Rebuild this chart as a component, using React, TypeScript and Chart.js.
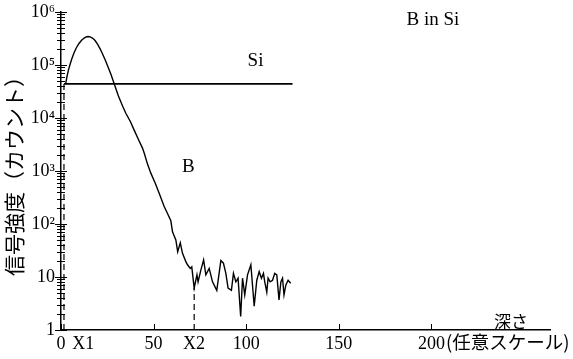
import React, { useEffect, useRef } from 'react';
import { Chart, registerables } from 'chart.js';

Chart.register(...registerables);

// B profile: depth (arbitrary scale) and signal (counts)
const bDepth = [
  2.5, 3.2, 4, 4.8, 5.8, 7, 8.3, 9.7, 11, 12.5, 13.6, 14.6, 15.7, 17, 18.4, 19.8,
  21.2, 22.5, 24, 25.5, 27, 28.2, 29.6, 31, 33.3, 35, 37.5, 39.5, 42, 44, 45, 46.7,
  48.5, 51, 53, 55.7, 57.5, 59.3, 60.2, 62, 63, 64.4, 65.6, 67.4, 68.3, 69.8, 70.6,
  71.9, 73.4, 74, 75.5, 77, 78.2, 80, 81.8, 84.1, 86.3, 87.7, 89, 90.2, 92, 93.1,
  94.4, 95.6, 97, 98, 99.2, 100.7, 102.5, 104.3, 105.7, 107, 108.2, 109.3, 110, 111.1,
  111.8, 112.9, 114.2, 115.4, 116.5, 117.7, 118.7, 119.6, 120.4, 121.4, 122.6, 124,
];
const bSignal = [
  43650, 60000, 80000, 100000, 130000, 168000, 212000, 255000, 290000, 322000, 338000,
  345000, 340000, 322000, 290000, 245000, 200000, 160000, 122000, 90000, 66000, 50000,
  36000, 26000, 16600, 12300, 8500, 5900, 3800, 2700, 2140, 1350, 912, 575, 380, 214,
  158, 115, 71, 50, 30, 44, 28, 19.5, 17, 14.5, 15.5, 6.2, 11, 8.1, 13.5, 21, 11, 14.5,
  8.1, 5.6, 20.4, 18.2, 11.7, 6.2, 5.6, 11.7, 8.1, 9.5, 1.8, 9.5, 4.6, 11, 17, 2.8,
  8.7, 12.6, 9.5, 11.7, 8.1, 5.2, 9.5, 8.1, 8.7, 11.7, 11, 3.7, 8.1, 9.5, 4.6, 7.1,
  8.7, 7.6,
];

// Si matrix signal
const siDepth = [1.6, 30, 60, 90, 125];
const siSignal = [44000, 44000, 44000, 44000, 44000];

// Marker depths
const x1Depth = 1.6;
const x2Depth = 71.9;
const x1Range = [1, 44000];
const x2Range = [1, 6.2];

// Ticks
const yTickValues = [1, 10, 100, 1000, 10000, 100000, 1000000];
const yTickLabels = ['1', '10', '10²', '10³', '10⁴', '10⁵', '10⁶'];
const xTickValues = [0, 12, 50, 71.8, 100, 150, 200];
const xTickLabels = ['0', 'X1', '50', 'X2', '100', '150', '200'];
const xMarkValues = [0, 50, 100, 150, 200];

const SERIF = '"Liberation Serif", "Times New Roman", serif';
const JP = '"Noto Sans CJK JP", sans-serif';

const decorPlugin = {
  id: 'decor',
  afterDraw(chart: any) {
    const { ctx, chartArea } = chart;
    const xs = chart.scales.x;
    const ys = chart.scales.y;
    const left = chartArea.left;
    const bottom = chartArea.bottom;
    ctx.save();
    ctx.strokeStyle = '#000';
    ctx.lineWidth = 1;
    // y-axis crossing ticks
    for (let k = 0; k <= 5; k++) {
      for (let m = 1; m <= 9; m++) {
        const v = m * Math.pow(10, k);
        const py = Math.round(ys.getPixelForValue(v)) + 0.5;
        const half = m === 1 ? 6 : 4;
        ctx.beginPath();
        ctx.moveTo(left - half, py);
        ctx.lineTo(left + half, py);
        ctx.stroke();
      }
    }
    {
      const py = Math.round(ys.getPixelForValue(1e6)) + 0.5;
      ctx.beginPath();
      ctx.moveTo(left - 6, py);
      ctx.lineTo(left + 6, py);
      ctx.stroke();
    }
    // x-axis tick marks
    for (const v of xMarkValues) {
      const px = Math.round(xs.getPixelForValue(v)) + 0.5;
      ctx.beginPath();
      ctx.moveTo(px, bottom);
      ctx.lineTo(px, bottom - 6);
      ctx.stroke();
    }
    // texts
    ctx.fillStyle = '#000';
    ctx.textAlign = 'center';
    ctx.textBaseline = 'middle';
    ctx.font = `19px ${SERIF}`;
    ctx.fillText('Si', xs.getPixelForValue(105), ys.getPixelForValue(1.2e5));
    ctx.fillText('B', xs.getPixelForValue(68.7), ys.getPixelForValue(1200));
    ctx.fillText('B in Si', xs.getPixelForValue(200.8), ys.getPixelForValue(7e5));
    ctx.font = `17px ${JP}`;
    ctx.fillText('深さ', xs.getPixelForValue(243), ys.getPixelForValue(1.45));
    // unit label after 200
    ctx.font = `18px ${SERIF}`;
    const w200 = ctx.measureText('200').width;
    ctx.font = `18.5px ${JP}`;
    ctx.textAlign = 'left';
    ctx.fillText('(任意スケール)', xs.getPixelForValue(200) + w200 / 2 + 1, bottom + 12);
    ctx.restore();
  },
};

export default function App() {
  const ref = useRef<HTMLCanvasElement | null>(null);

  useEffect(() => {
    if (!ref.current) return;
    const bData = bDepth.map((x, i) => ({ x, y: bSignal[i] }));
    const siData = siDepth.map((x, i) => ({ x, y: siSignal[i] }));
    const x1Data = x1Range.map((y) => ({ x: x1Depth, y }));
    const x2Data = x2Range.map((y) => ({ x: x2Depth, y }));

    const chart = new Chart(ref.current, {
      type: 'line',
      data: {
        datasets: [
          {
            label: 'B',
            data: bData,
            borderColor: '#000',
            borderWidth: 1.4,
            pointRadius: 0,
            tension: 0,
          },
          {
            label: 'Si',
            data: siData,
            borderColor: '#000',
            borderWidth: 1.8,
            pointRadius: 0,
          },
          {
            label: 'X1',
            data: x1Data,
            borderColor: '#000',
            borderWidth: 1.2,
            borderDash: [6, 4],
            pointRadius: 0,
          },
          {
            label: 'X2',
            data: x2Data,
            borderColor: '#000',
            borderWidth: 1.2,
            borderDash: [6, 4],
            pointRadius: 0,
          },
        ],
      },
      options: {
        responsive: false,
        animation: false,
        events: [],
        layout: { padding: { top: 12, right: 23, left: 0, bottom: 0 } },
        plugins: {
          legend: { display: false },
          tooltip: { enabled: false },
          title: { display: false },
        },
        scales: {
          x: {
            type: 'linear',
            min: 0,
            max: 264,
            grid: { display: false, drawTicks: false },
            border: { display: true, color: '#000', width: 1.5 },
            afterBuildTicks: (scale: any) => {
              scale.ticks = xTickValues.map((v) => ({ value: v }));
            },
            afterFit: (scale: any) => {
              scale.height = 29;
              scale.paddingLeft = 0;
              scale.paddingRight = 0;
              scale.paddingTop = 0;
              scale.paddingBottom = 0;
            },
            ticks: {
              autoSkip: false,
              maxRotation: 0,
              padding: 3,
              color: '#000',
              font: { family: SERIF, size: 18 },
              callback: (v: any) => {
                const i = xTickValues.indexOf(Number(v));
                return i >= 0 ? xTickLabels[i] : '';
              },
            },
          },
          y: {
            type: 'logarithmic',
            min: 1,
            max: 1000000,
            grid: { display: false, drawTicks: false },
            border: { display: true, color: '#000', width: 1.5 },
            afterBuildTicks: (scale: any) => {
              scale.ticks = yTickValues.map((v) => ({ value: v, major: true }));
            },
            afterFit: (scale: any) => {
              scale.width = 61;
              scale.paddingLeft = 0;
              scale.paddingRight = 0;
              scale.paddingTop = 0;
              scale.paddingBottom = 0;
            },
            title: {
              display: true,
              text: '信号強度（カウント）',
              color: '#000',
              font: { family: JP, size: 21 },
              padding: { top: 1, bottom: 0 },
            },
            ticks: {
              autoSkip: false,
              padding: 6,
              color: '#000',
              font: { family: SERIF, size: 18 },
              callback: (v: any) => {
                const i = yTickValues.indexOf(Number(v));
                return i >= 0 ? yTickLabels[i] : '';
              },
            },
          },
        },
      },
      plugins: [decorPlugin],
    });
    return () => chart.destroy();
  }, []);

  return (
    <div style={{ position: 'fixed', left: 0, top: 0, width: 573, height: 359, background: '#fff' }}>
      <canvas ref={ref} width={573} height={359} style={{ display: 'block' }} />
    </div>
  );
}
